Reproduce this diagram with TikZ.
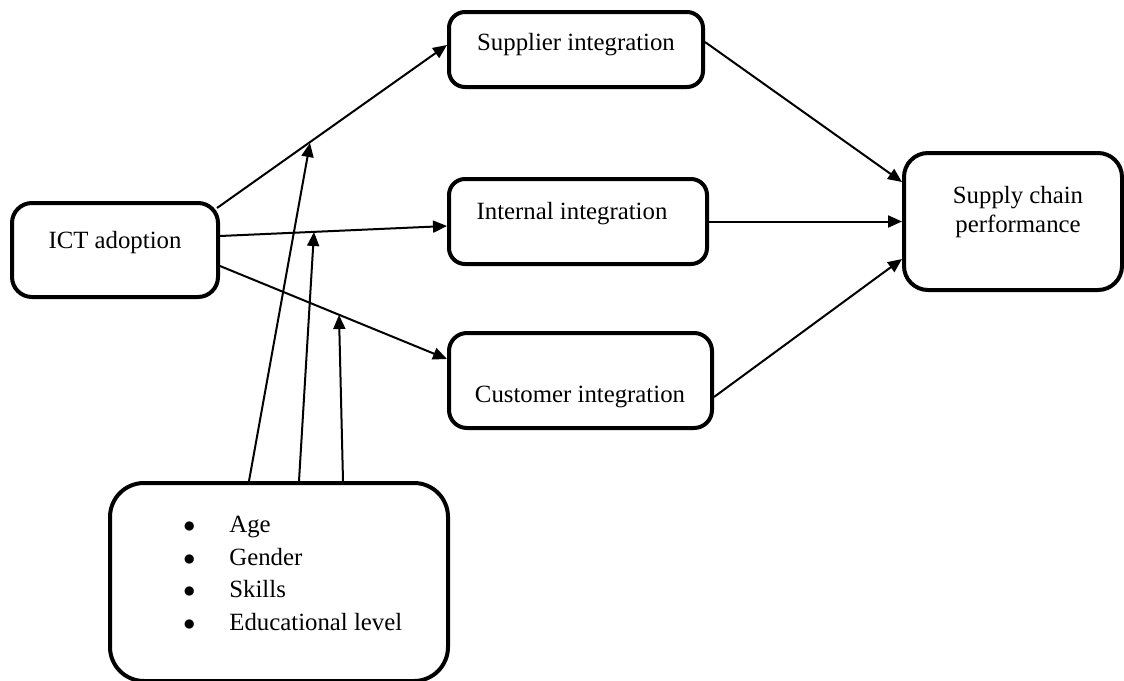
\documentclass[tikz,border=0pt]{standalone}
\usepackage{fontspec}
\setmainfont{Liberation Serif}
\usetikzlibrary{arrows.meta}
\begin{document}
\begin{tikzpicture}[x=0.5pt,y=-0.5pt,
  box/.style={draw, line width=2pt, inner sep=0pt, font=\fontsize{12.4}{14.5}\selectfont},
  lbl/.style={inner sep=0pt, font=\fontsize{12.4}{14.5}\selectfont, align=center},
  conn/.style={line width=1pt, -{Triangle[length=7pt,width=6pt]}}]
\useasboundingbox (0,0) rectangle (1124,680);
% boxes
\node[box, rounded corners=10pt, minimum width=103pt, minimum height=47pt] (ict) at (115,250) {};
\node[lbl] (ictt) at (115,243) {ICT adoption};
\node[box, rounded corners=8pt, minimum width=127pt, minimum height=37.5pt] (sup) at (576,49.5) {};
\node[lbl] (supt) at (576,45) {Supplier integration};
\node[box, rounded corners=8pt, minimum width=129pt, minimum height=42.5pt] (int) at (578,221.5) {};
\node[lbl] (intt) at (572,214) {Internal integration};
\node[box, rounded corners=9pt, minimum width=131.5pt, minimum height=47.5pt] (cus) at (580.5,380.5) {};
\node[lbl] (cust) at (580,397) {Customer integration};
\node[box, rounded corners=12pt, minimum width=109pt, minimum height=68.5pt] (scp) at (1013,221.5) {};
\node[lbl] (scpt) at (1018,212.5) {Supply chain\\performance};
\node[box, rounded corners=17pt, minimum width=169pt, minimum height=99pt] (mod) at (279,582) {};
\node[inner sep=0pt, anchor=west, font=\fontsize{12.4}{16.2}\selectfont] (modt) at (183,575)
  {\begin{tabular}{@{}l@{\hspace{17pt}}l@{}}
   $\bullet$ & Age\\
   $\bullet$ & Gender\\
   $\bullet$ & Skills\\
   $\bullet$ & Educational level
   \end{tabular}};
% connectors
\draw[conn] ([xshift=-1.5pt,yshift=-3.5pt]ict.north east) -- ([yshift=2.25pt]sup.west);
\draw[conn] ([yshift=7pt]ict.east) -- ([yshift=-2.25pt]int.west);
\draw[conn] ([yshift=-8pt]ict.east) -- ([yshift=10.75pt]cus.west);
\draw[conn] ([yshift=3.75pt]sup.east) -- ([yshift=19.75pt]scp.west);
\draw[conn] (int.east) -- (scp.west);
\draw[conn] ([yshift=-8.25pt]cus.east) -- ([yshift=-18.75pt]scp.west);
% moderation
\coordinate (m1) at (310,143);
\coordinate (m2) at (314,232);
\coordinate (m3) at (339,315);
\draw[conn] ([xshift=-15pt]mod.north) -- (m1);
\draw[conn] ([xshift=10pt]mod.north) -- (m2);
\draw[conn] ([xshift=32pt]mod.north) -- (m3);
\end{tikzpicture}
\end{document}
